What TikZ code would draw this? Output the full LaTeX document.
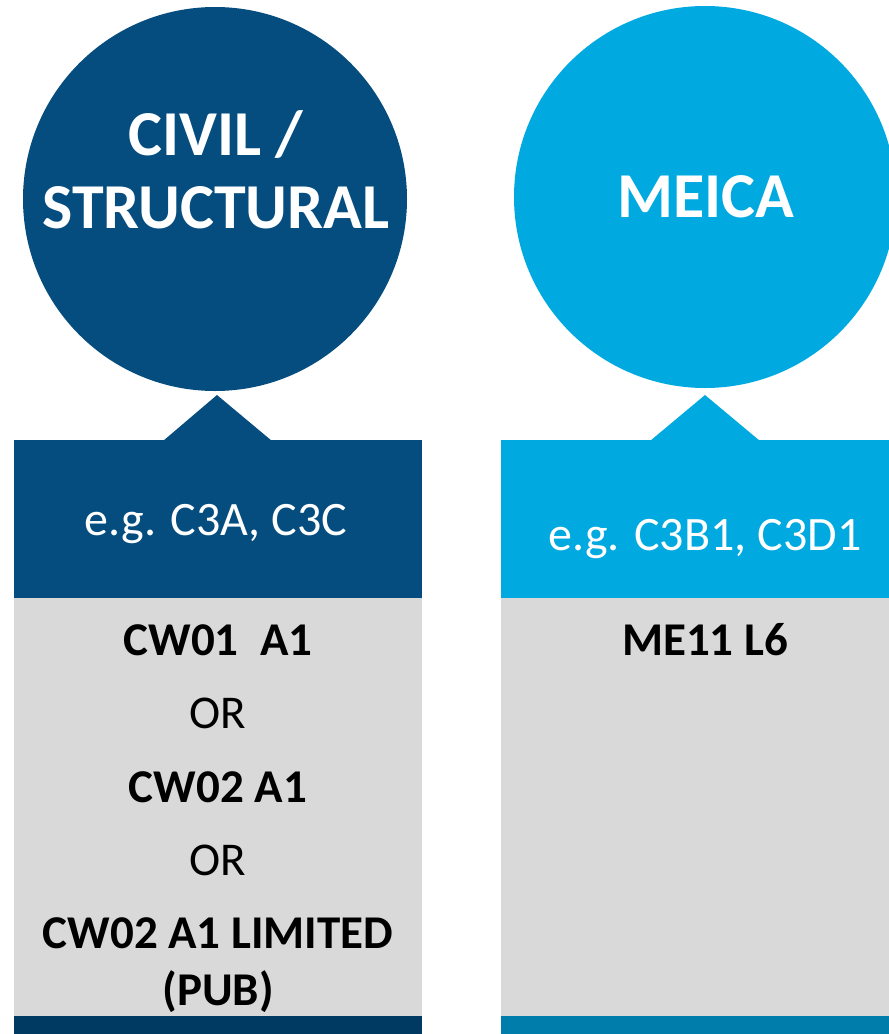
\documentclass[tikz,border=0pt]{standalone}
\usepackage{fontspec}
\setmainfont{Carlito}
\definecolor{darkblue}{HTML}{054D7F}
\definecolor{lightblue}{HTML}{00A9E0}
\definecolor{panelgrey}{HTML}{D9D9D9}
\definecolor{darkstrip}{HTML}{003A62}
\definecolor{lightstrip}{HTML}{007DAB}
\begin{document}
\begin{tikzpicture}[x=1pt,y=-1pt,
  titletext/.style={text=white,font=\fontsize{64}{73}\selectfont\bfseries,anchor=base,inner sep=0pt},
  headtext/.style={text=white,font=\fontsize{48}{58}\selectfont,anchor=base,inner sep=0pt},
  boldline/.style={text=black,font=\fontsize{47}{56}\selectfont\bfseries,anchor=base,inner sep=0pt},
  plainline/.style={text=black,font=\fontsize{47}{56}\selectfont,anchor=base,inner sep=0pt}]
\useasboundingbox (0,0) rectangle (889,1034);
% left column
\fill[darkblue] (215,199) circle[radius=192];
\fill[darkblue] (163,441) -- (217,395) -- (272,441) -- cycle;
\fill[darkblue] (14,440) rectangle (422,598);
\fill[panelgrey] (14,598) rectangle (422,1016);
\fill[darkstrip] (14,1016) rectangle (422,1034);
\node[titletext] (civ1) at (216,155) {CIVIL /};
\node[titletext] (civ2) at (216,228) {STRUCTURAL};
\node[headtext] (lhead) at (216,535) {e.g. C3A, C3C};
\node[boldline] (l1) at (218,655) {CW01\ \ A1};
\node[plainline] (l2) at (218,728) {OR};
\node[boldline] (l3) at (218,802) {CW02 A1};
\node[plainline] (l4) at (218,875) {OR};
\node[boldline] (l5) at (218,948) {CW02 A1 LIMITED};
\node[boldline] (l6) at (218,1005) {(PUB)};
% right column
\fill[lightblue] (705,197) circle[radius=191];
\fill[lightblue] (650,441) -- (705,395) -- (760,441) -- cycle;
\fill[lightblue] (501,440) rectangle (889,598);
\fill[panelgrey] (501,598) rectangle (889,1016);
\fill[lightstrip] (501,1016) rectangle (889,1034);
\node[titletext] (meica) at (706,217) {MEICA};
\node[headtext] (rhead) at (705,550) {e.g. C3B1, C3D1};
\node[boldline] (r1) at (705,655) {ME11 L6};
\end{tikzpicture}
\end{document}
